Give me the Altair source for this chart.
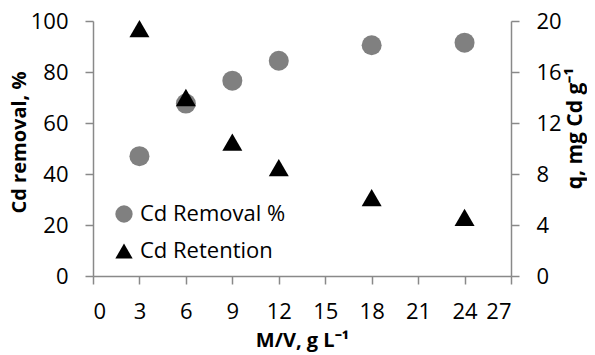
import altair as alt
import pandas as pd

mv = [3, 6, 9, 12, 18, 24]
removal = [47.0, 67.6, 76.6, 84.4, 90.5, 91.5]
retention = [19.4, 14.0, 10.5, 8.5, 6.15, 4.6]
series_names = ["Cd Removal %", "Cd Retention"]
x_ticks = [0, 3, 6, 9, 12, 15, 18, 21, 24, 27]
left_ticks = [0, 20, 40, 60, 80, 100]
right_ticks = [0, 4, 8, 12, 16, 20]

df1 = pd.DataFrame({"mv": mv, "val": removal, "series": series_names[0]})
df2 = pd.DataFrame({"mv": mv, "val": retention, "series": series_names[1]})

FONT = "Open Sans"
AX = "#898989"

shape_scale = alt.Scale(domain=series_names, range=["circle", "triangle-up"])
color_scale = alt.Scale(domain=series_names, range=["#808080", "#000000"])

xenc = alt.X("mv:Q", scale=alt.Scale(domain=[0, 27], nice=False),
             axis=alt.Axis(values=x_ticks, title="M/V, g L\u207b\u00b9", grid=False,
                           labelPadding=17, titleBaseline="alphabetic", titleY=70))

legend = alt.Legend(title=None, orient="none", legendX=20, legendY=182,
                    symbolSize=300, labelFontSize=22, rowPadding=15,
                    labelFont=FONT, labelColor="black", padding=0, symbolStrokeWidth=0,
                    symbolOpacity=1, labelOffset=5)

l1 = alt.Chart(df1).mark_point(filled=True, opacity=1, size=400).encode(
    x=xenc,
    y=alt.Y("val:Q", scale=alt.Scale(domain=[0, 100], nice=False),
            axis=alt.Axis(values=left_ticks, title="Cd removal, %", grid=False,
                          orient="left", labelPadding=17, titlePadding=1, titleY=121)),
    shape=alt.Shape("series:N", scale=shape_scale, legend=legend),
    color=alt.Color("series:N", scale=color_scale, legend=legend),
)

l2 = alt.Chart(df2).mark_point(filled=True, opacity=1, size=400).encode(
    x=xenc,
    y=alt.Y("val:Q", scale=alt.Scale(domain=[0, 20], nice=False),
            axis=alt.Axis(values=right_ticks, title="q, mg Cd g\u207b\u00b9", grid=False,
                          orient="right", labelPadding=17, titlePadding=3,
                          titleAngle=270, titleBaseline="top", titleFontSize=21,
                          titleY=107)),
    shape=alt.Shape("series:N", scale=shape_scale, legend=legend),
    color=alt.Color("series:N", scale=color_scale, legend=legend),
)

chart = alt.layer(l1, l2).resolve_scale(y="independent").properties(
    width=418, height=255,
    autosize=alt.AutoSizeParams(type="none"),
    padding={"left": 85, "top": 13, "right": 76, "bottom": 76},
).configure_view(stroke=None).configure_axis(
    domainColor=AX, tickColor=AX, domainWidth=1.5, tickWidth=1.5, tickSize=8,
    labelFont=FONT, labelFontSize=22, labelColor="black",
    titleFont=FONT, titleFontSize=20, titleFontWeight="bold", titleColor="black",
)

chart.save("out.html", embed_options={"renderer": "svg", "actions": False})
